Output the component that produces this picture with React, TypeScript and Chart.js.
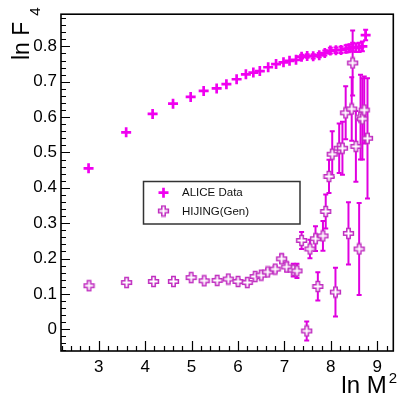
import React, { useEffect, useRef } from "react";
import { Chart, registerables } from "chart.js";

Chart.register(...registerables);

// ALICE data: ln M^2 vs ln F4
const aliceLnM2 = [
  2.78, 3.59, 4.16, 4.6, 4.98, 5.26, 5.54, 5.75, 5.97, 6.17, 6.33, 6.47, 6.65, 6.82, 6.98, 7.11,
  7.25, 7.37, 7.49, 7.62, 7.75, 7.87, 7.99, 8.11, 8.22, 8.33, 8.4, 8.47, 8.54, 8.61, 8.68, 8.75,
];
const aliceLnF4 = [
  0.455, 0.557, 0.609, 0.638, 0.657, 0.674, 0.681, 0.693, 0.707, 0.721, 0.726, 0.73, 0.741, 0.75,
  0.755, 0.759, 0.762, 0.771, 0.773, 0.772, 0.775, 0.781, 0.788, 0.789, 0.79, 0.793, 0.795, 0.798,
  0.796, 0.797, 0.8, 0.832,
];
const aliceErr = [
  0.003, 0.003, 0.003, 0.003, 0.003, 0.003, 0.003, 0.003, 0.003, 0.003, 0.003, 0.003, 0.003, 0.003,
  0.003, 0.003, 0.003, 0.005, 0.005, 0.006, 0.006, 0.007, 0.008, 0.008, 0.009, 0.01, 0.01, 0.012,
  0.012, 0.013, 0.014, 0.015,
];

// HIJING (Gen): ln M^2 vs ln F4
const hijingLnM2 = [
  2.79, 3.6, 4.18, 4.61, 4.99, 5.27, 5.55, 5.79, 6.0, 6.2, 6.37, 6.5, 6.64, 6.8, 6.94, 7.05, 7.19,
  7.27, 7.37, 7.48, 7.55, 7.67, 7.72, 7.83, 7.89, 7.96, 8.03, 8.1, 8.18, 8.25, 8.32, 8.38, 8.45,
  8.47, 8.54, 8.61, 8.64, 8.68, 8.72, 8.79,
];
const hijingLnF4 = [
  0.123, 0.132, 0.135, 0.135, 0.146, 0.137, 0.138, 0.142, 0.135, 0.132, 0.149, 0.153, 0.162, 0.17,
  0.199, 0.176, 0.167, 0.165, 0.251, -0.005, 0.227, 0.256, 0.121, 0.264, 0.333, 0.432, 0.495,
  0.105, 0.512, 0.512, 0.612, 0.271, 0.623, 0.753, 0.517, 0.227, 0.6, 0.595, 0.62, 0.54,
];
const hijingErr = [
  0.004, 0.004, 0.004, 0.004, 0.005, 0.005, 0.005, 0.005, 0.006, 0.006, 0.006, 0.007, 0.008, 0.009,
  0.012, 0.013, 0.018, 0.02, 0.024, 0.027, 0.026, 0.035, 0.04, 0.042, 0.048, 0.047, 0.065, 0.069,
  0.07, 0.075, 0.075, 0.088, 0.09, 0.092, 0.1, 0.13, 0.12, 0.115, 0.095, 0.17,
];

const xTickLabels = ["3", "4", "5", "6", "7", "8", "9"];
const yTickLabels = ["0", "0.1", "0.2", "0.3", "0.4", "0.5", "0.6", "0.7", "0.8"];

const seriesNames = ["ALICE Data", "HIJING(Gen)"];

const FONT = '"Liberation Sans", Arial, Helvetica, sans-serif';
const ALICE_COLOR = "#f000f0";
const HIJING_COLOR = "#c02ec0";
const HIJING_BAR = "#e000e0";

function tracePlus(ctx: CanvasRenderingContext2D, cx: number, cy: number, L: number, w: number) {
  ctx.beginPath();
  ctx.moveTo(cx - w, cy - L);
  ctx.lineTo(cx + w, cy - L);
  ctx.lineTo(cx + w, cy - w);
  ctx.lineTo(cx + L, cy - w);
  ctx.lineTo(cx + L, cy + w);
  ctx.lineTo(cx + w, cy + w);
  ctx.lineTo(cx + w, cy + L);
  ctx.lineTo(cx - w, cy + L);
  ctx.lineTo(cx - w, cy + w);
  ctx.lineTo(cx - L, cy + w);
  ctx.lineTo(cx - L, cy - w);
  ctx.lineTo(cx - w, cy - w);
  ctx.closePath();
}

function makeOpenCross(): HTMLCanvasElement {
  const c = document.createElement("canvas");
  c.width = 13;
  c.height = 13;
  const g = c.getContext("2d")!;
  tracePlus(g, 6.5, 6.5, 4.9, 1.7);
  g.fillStyle = "#ffffff";
  g.fill();
  g.strokeStyle = HIJING_COLOR;
  g.lineWidth = 1.5;
  g.stroke();
  return c;
}

function drawSolidPlus(ctx: CanvasRenderingContext2D, x: number, y: number) {
  ctx.save();
  ctx.strokeStyle = ALICE_COLOR;
  ctx.lineWidth = 2.7;
  ctx.beginPath();
  ctx.moveTo(x - 5, y);
  ctx.lineTo(x + 5, y);
  ctx.moveTo(x, y - 5);
  ctx.lineTo(x, y + 5);
  ctx.stroke();
  ctx.restore();
}

const near = (v: number, step: number) => Math.abs(v / step - Math.round(v / step)) < 1e-6;

// vertical error bars with small caps, drawn under the markers
const errorBarPlugin = {
  id: "errorBars",
  beforeDatasetsDraw(chart: any) {
    const { ctx, chartArea } = chart;
    const xs = chart.scales.x;
    const ys = chart.scales.y;
    ctx.save();
    ctx.beginPath();
    ctx.rect(chartArea.left, chartArea.top, chartArea.right - chartArea.left, chartArea.bottom - chartArea.top);
    ctx.clip();
    chart.data.datasets.forEach((ds: any) => {
      const errs: number[] = ds.errors;
      if (!errs) return;
      ctx.strokeStyle = ds.errorColor;
      ctx.lineWidth = 2;
      ds.data.forEach((p: any, i: number) => {
        const e = errs[i];
        const px = xs.getPixelForValue(p.x);
        const top = ys.getPixelForValue(p.y + e);
        const bot = ys.getPixelForValue(p.y - e);
        if (bot - top < 3) return;
        ctx.beginPath();
        ctx.moveTo(px, top);
        ctx.lineTo(px, bot);
        ctx.moveTo(px - 2.5, top);
        ctx.lineTo(px + 2.5, top);
        ctx.moveTo(px - 2.5, bot);
        ctx.lineTo(px + 2.5, bot);
        ctx.stroke();
      });
    });
    ctx.restore();
  },
};

// frame, inward tick marks, axis titles and legend box
const decorPlugin = {
  id: "decor",
  afterDraw(chart: any) {
    const { ctx, chartArea } = chart;
    const { left, right, top, bottom } = chartArea;
    const xs = chart.scales.x;
    const ys = chart.scales.y;
    ctx.save();

    ctx.strokeStyle = "#000";
    ctx.lineWidth = 1.2;
    ctx.beginPath();
    ys.ticks.forEach((t: any) => {
      const y = Math.round(ys.getPixelForValue(t.value)) + 0.5;
      const len = near(t.value, 0.1) ? 9 : 5;
      ctx.moveTo(left, y);
      ctx.lineTo(left + len, y);
    });
    xs.ticks.forEach((t: any) => {
      const x = Math.round(xs.getPixelForValue(t.value)) + 0.5;
      const len = near(t.value, 1) ? 10 : 5;
      ctx.moveTo(x, bottom);
      ctx.lineTo(x, bottom - len);
    });
    ctx.stroke();

    ctx.lineWidth = 1.6;
    ctx.strokeRect(left, top, right - left, bottom - top);

    // y title: ln F_4
    ctx.fillStyle = "#000";
    ctx.save();
    ctx.translate(28.5, 60);
    ctx.rotate(-Math.PI / 2);
    ctx.textAlign = "left";
    ctx.textBaseline = "alphabetic";
    ctx.font = `23px ${FONT}`;
    ctx.fillText("ln F", 0, 0);
    const wF = ctx.measureText("ln F").width;
    ctx.font = `15px ${FONT}`;
    ctx.fillText("4", wF + 6, 11.5);
    ctx.restore();

    // x title: ln M^2
    ctx.textAlign = "left";
    ctx.textBaseline = "alphabetic";
    ctx.font = `15px ${FONT}`;
    const w2 = ctx.measureText("2").width;
    ctx.font = `24px ${FONT}`;
    const wM = ctx.measureText("ln M").width;
    const x2 = 397 - w2;
    ctx.fillText("ln M", x2 - 2 - wM, 393);
    ctx.font = `15px ${FONT}`;
    ctx.fillText("2", x2, 383);

    // legend
    const bx = 143.5, by = 181.5, bw = 156.5, bh = 42.5;
    ctx.fillStyle = "#fff";
    ctx.fillRect(bx, by, bw, bh);
    ctx.strokeStyle = "#333";
    ctx.lineWidth = 1.5;
    ctx.strokeRect(bx, by, bw, bh);
    drawSolidPlus(ctx, 163.5, 192.7);
    const img = chart.data.datasets[1].pointStyle;
    ctx.drawImage(img, 163.5 - img.width / 2, 211 - img.height / 2);
    ctx.fillStyle = "#111";
    ctx.font = `11.5px ${FONT}`;
    ctx.textBaseline = "middle";
    ctx.fillText(chart.data.datasets[0].label, 182, 193);
    ctx.fillText(chart.data.datasets[1].label, 182, 211.5);

    ctx.restore();
  },
};

export default function App() {
  const canvasRef = useRef<HTMLCanvasElement>(null);

  useEffect(() => {
    document.body.style.margin = "0";
    const canvas = canvasRef.current!;
    const openCross = makeOpenCross();

    const chart = new Chart(canvas, {
      type: "scatter",
      data: {
        datasets: [
          {
            label: seriesNames[0],
            data: aliceLnM2.map((x, i) => ({ x, y: aliceLnF4[i] })),
            pointStyle: "cross",
            pointRadius: 5,
            pointBorderWidth: 2.7,
            borderColor: ALICE_COLOR,
            backgroundColor: ALICE_COLOR,
            errors: aliceErr,
            errorColor: ALICE_COLOR,
          } as any,
          {
            label: seriesNames[1],
            data: hijingLnM2.map((x, i) => ({ x, y: hijingLnF4[i] })),
            pointStyle: openCross,
            pointRadius: 6,
            borderColor: HIJING_COLOR,
            backgroundColor: "#fff",
            errors: hijingErr,
            errorColor: HIJING_BAR,
          } as any,
        ],
      },
      options: {
        animation: false,
        responsive: true,
        maintainAspectRatio: false,
        layout: { padding: { top: 6, right: 3, left: 0, bottom: 0 } },
        plugins: {
          legend: { display: false },
          tooltip: { enabled: false },
        },
        scales: {
          x: {
            type: "linear",
            min: 2.186,
            max: 9.346,
            grid: { display: false, drawTicks: false },
            border: { display: false },
            afterFit: (s: any) => {
              s.height = 48;
            },
            ticks: {
              stepSize: 0.2,
              includeBounds: false,
              autoSkip: false,
              maxRotation: 0,
              padding: 6,
              color: "#000",
              font: { family: FONT, size: 17 },
              callback: (v: any) => {
                const n = Number(v);
                if (!near(n, 1)) return "";
                return xTickLabels[Math.round(n) - 3] ?? "";
              },
            },
          },
          y: {
            type: "linear",
            min: -0.0616,
            max: 0.891,
            grid: { display: false, drawTicks: false },
            border: { display: false },
            afterFit: (s: any) => {
              s.width = 61;
            },
            ticks: {
              stepSize: 0.02,
              includeBounds: false,
              autoSkip: false,
              padding: 4,
              color: "#000",
              font: { family: FONT, size: 17 },
              callback: (v: any) => {
                const n = Number(v);
                if (!near(n, 0.1)) return "";
                return yTickLabels[Math.round(n * 10)] ?? "";
              },
            },
          },
        },
      },
      plugins: [errorBarPlugin, decorPlugin],
    });

    return () => chart.destroy();
  }, []);

  return (
    <div style={{ position: "relative", width: 401, height: 399 }}>
      <canvas ref={canvasRef} />
    </div>
  );
}
